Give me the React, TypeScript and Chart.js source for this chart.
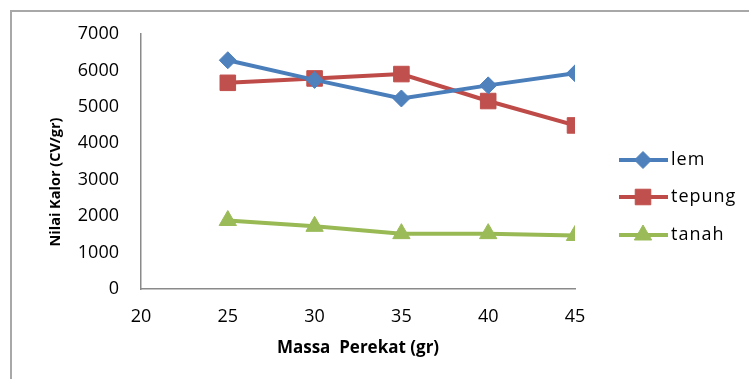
import React, { useEffect, useRef } from "react";
import { Chart, registerables } from "chart.js";
import { drawPoint } from "chart.js/helpers";

Chart.register(...registerables);

// Massa perekat (gr) on the x axis
const massa = [25, 30, 35, 40, 45];

// Nilai kalor (CV/gr) for each binder
const lem = [6280, 5740, 5230, 5590, 5920];
const tepung = [5660, 5780, 5900, 5160, 4490];
const tanah = [1880, 1720, 1520, 1520, 1470];

const seriesNames = ["lem", "tepung", "tanah"];
const xTitle = "Massa  Perekat (gr)";
const yTitle = "Nilai Kalor (CV/gr)";

const FONT = "'Open Sans', Lato, sans-serif";

const styles = [
  { line: "#4A7EBB", fill: "#4F81BD", point: "rectRot", radius: 8.5 },
  { line: "#BE4B48", fill: "#C0504D", point: "rect", radius: 11 },
  { line: "#98B954", fill: "#9BBB59", point: "triangle", radius: 10 },
];

const toPoints = (vals: number[]) => vals.map((v, i) => ({ x: massa[i], y: v }));

// Frame, vertical axis title and the legend drawn at the side of the plot
const decorations = {
  id: "decorations",
  beforeDraw(chart: any) {
    const ctx = chart.ctx;
    ctx.save();
    ctx.strokeStyle = "#a8a8a8";
    ctx.lineWidth = 2;
    ctx.beginPath();
    ctx.moveTo(11, chart.height + 2);
    ctx.lineTo(11, 11);
    ctx.lineTo(chart.width + 2, 11);
    ctx.stroke();
    ctx.restore();
  },
  afterDraw(chart: any) {
    const ctx = chart.ctx;
    ctx.save();
    ctx.translate(56, 182);
    ctx.rotate(-Math.PI / 2);
    ctx.font = `bold 14.5px ${FONT}`;
    ctx.fillStyle = "#000";
    ctx.textAlign = "center";
    ctx.textBaseline = "middle";
    ctx.fillText(yTitle, 0, 0);
    ctx.restore();

    const rowY = [160, 197, 235];
    chart.data.datasets.forEach((ds: any, i: number) => {
      const y = rowY[i];
      ctx.save();
      ctx.strokeStyle = ds.borderColor;
      ctx.lineWidth = ds.borderWidth;
      ctx.beginPath();
      ctx.moveTo(619, y);
      ctx.lineTo(668, y);
      ctx.stroke();
      ctx.fillStyle = ds.pointBackgroundColor;
      ctx.strokeStyle = ds.pointBorderColor;
      ctx.lineWidth = 1;
      drawPoint(ctx, { pointStyle: ds.pointStyle, radius: ds.pointRadius, rotation: 0, borderWidth: 1 }, 643, y);
      ctx.fillStyle = "#000";
      ctx.font = `18px ${FONT}`;
      (ctx as any).letterSpacing = "1px";
      ctx.textAlign = "left";
      ctx.textBaseline = "middle";
      ctx.fillText(ds.label, 671, y);
      ctx.restore();
    });
  },
};

export default function App() {
  const ref = useRef<HTMLCanvasElement | null>(null);

  useEffect(() => {
    if (!ref.current) return;
    const data = [lem, tepung, tanah];
    const chart = new Chart(ref.current, {
      type: "line",
      data: {
        datasets: data.map((vals, i) => ({
          label: seriesNames[i],
          data: toPoints(vals),
          borderColor: styles[i].line,
          borderWidth: 4,
          pointStyle: styles[i].point as any,
          pointRadius: styles[i].radius,
          pointBackgroundColor: styles[i].fill,
          pointBorderColor: styles[i].fill,
          pointBorderWidth: 1,
          tension: 0,
        })),
      },
      options: {
        responsive: false,
        animation: false,
        devicePixelRatio: 1,
        layout: { padding: { top: 34, right: 174, bottom: 0, left: 0 } },
        plugins: {
          legend: { display: false },
          tooltip: { enabled: false },
        },
        scales: {
          x: {
            type: "linear",
            min: 20,
            max: 45,
            afterFit: (s: any) => {
              s.height = 90;
            },
            ticks: {
              stepSize: 5,
              padding: 17,
              color: "#000",
              font: { family: FONT, size: 18 },
              callback: (v: any) => String(v),
            },
            grid: { display: false, drawTicks: false },
            border: { display: true, color: "#8a8a8a", width: 1.5 },
            title: {
              display: true,
              text: xTitle,
              color: "#000",
              font: { family: FONT, size: 17, weight: "bold" },
              padding: { top: 6, bottom: 21 },
            },
          },
          y: {
            min: 0,
            max: 7000,
            afterFit: (s: any) => {
              s.width = 141;
            },
            ticks: {
              stepSize: 1000,
              padding: 22,
              color: "#000",
              font: { family: FONT, size: 18 },
              callback: (v: any) => String(v),
            },
            grid: { display: false, drawTicks: false },
            border: { display: true, color: "#8a8a8a", width: 1.5 },
          },
        },
      },
      plugins: [decorations],
    });
    return () => chart.destroy();
  }, []);

  return (
    <div style={{ position: "absolute", left: 0, top: 0, width: 749, height: 379, background: "#fff" }}>
      <canvas ref={ref} width={749} height={379} />
    </div>
  );
}
